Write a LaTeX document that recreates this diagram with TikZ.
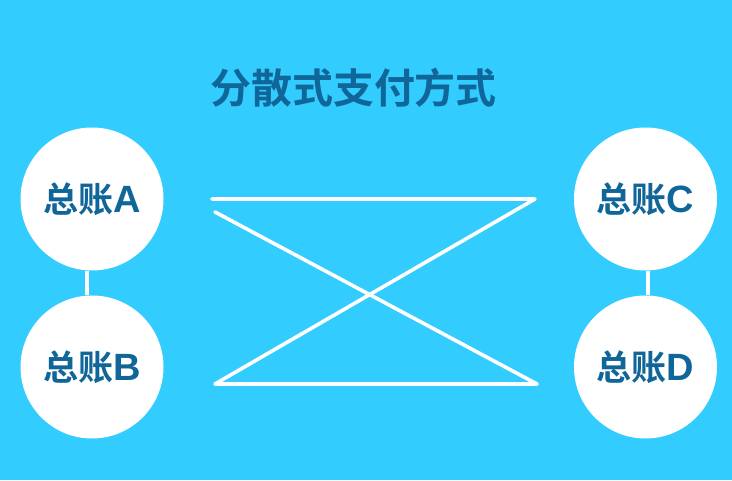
\documentclass[tikz,border=0pt]{standalone}
\usepackage{fontspec}
\setmainfont{Noto Sans CJK SC}
\newfontfamily\cjkbold{Noto Sans CJK SC Bold}
\newfontfamily\latbold{Liberation Sans Bold}
\definecolor{bgblue}{RGB}{51,204,255}
\definecolor{txtblue}{RGB}{16,102,152}
\newcommand{\ledgerlabel}[1]{总账{\latbold\fontsize{38}{38}\selectfont #1}}
\tikzset{
  ledger/.style={circle,fill=white,minimum size=143pt,inner sep=0pt,text=txtblue,font=\cjkbold\fontsize{35}{35}\selectfont},
  link/.style={draw=white,line width=3.6pt,line cap=round,line join=round},
  stub/.style={draw=white,line width=3.6pt}
}
\begin{document}
\begin{tikzpicture}[x=1pt,y=1pt]
\fill[bgblue] (0,0) rectangle (732,480);
\useasboundingbox (0,0) rectangle (732,480);
\node[text=txtblue,font=\cjkbold\fontsize{41}{41}\selectfont] (title) at (353.5,392) {分散式支付方式};
\node[ledger] (a) at (92,281) {\ledgerlabel{A}};
\node[ledger] (b) at (92,113) {\ledgerlabel{B}};
\node[ledger] (c) at (645.5,281) {\ledgerlabel{C}};
\node[ledger] (d) at (645.5,113) {\ledgerlabel{D}};
\draw[stub] ([xshift=-5pt]a.south) -- ([xshift=-5pt]b.north);
\draw[stub] ([xshift=2.5pt]c.south) -- ([xshift=2.5pt]d.north);
\coordinate (p1) at (212,281);
\coordinate (p2) at (535,281);
\coordinate (p3) at (215,96);
\coordinate (p4) at (537,96);
\coordinate (p5) at (215,268);
\draw[link] (p1) -- (p2) -- (p3) -- (p4);
\draw[link] (p5) -- (p4);
\end{tikzpicture}
\end{document}
